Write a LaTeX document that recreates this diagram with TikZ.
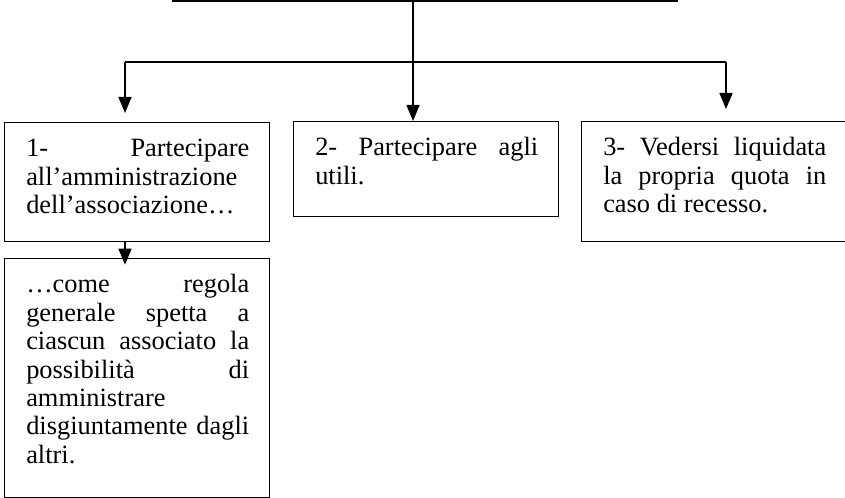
\documentclass[tikz,border=0pt]{standalone}
\usepackage{fontspec}
\setmainfont{Liberation Serif}
\usetikzlibrary{arrows.meta,calc}
\begin{document}
\begin{tikzpicture}[x=0.75pt,y=-0.75pt,
  box/.style={draw, line width=1.1pt, rectangle, inner sep=0pt, anchor=north west, minimum width=198.75pt},
  txt/.style={inner sep=0pt, anchor=base west, font=\fontsize{19.8}{21.3}\selectfont},
  ln/.style={line width=1.1pt},
  arr/.style={line width=1.1pt, -{Triangle[length=12pt,width=9.75pt]}}]
\useasboundingbox (0,0) rectangle (845,498);
% boxes
\node[box, minimum height=89.25pt] (b1) at (4,122) {};
\node[box, minimum height=71.25pt] (b2) at (293,121) {};
\node[box, minimum height=90pt] (b3) at (581,121) {};
\node[box, minimum height=179.25pt] (b4) at (4,258) {};
% texts
\node[txt] (t1) at ($(b1.north west)+(22,35)$) {\parbox[t]{167.25pt}{1-\hfill Partecipare\\all’amministrazione\\dell’associazione…}};
\node[txt] (t2) at ($(b2.north west)+(22,35)$) {\parbox[t]{167.25pt}{2-\hfill Partecipare\hfill agli\\utili.}};
\node[txt] (t3) at ($(b3.north west)+(22,35)$) {\parbox[t]{167.25pt}{3-\hfill Vedersi\hfill liquidata\\la\hfill propria\hfill quota\hfill in\\caso di recesso.}};
\node[txt] (t4) at ($(b4.north west)+(22,35)$) {\parbox[t]{167.25pt}{…come\hfill regola\\generale\hfill spetta\hfill a\\ciascun\hfill associato\hfill la\\possibilità\hfill di\\amministrare\\disgiuntamente\hfill dagli\\altri.}};
% connectors
\coordinate (tl) at (172,1);
\coordinate (tr) at (678,1);
\coordinate (top) at (413,1);
\coordinate (mid) at (413,62);
\coordinate (hl) at (125,62);
\coordinate (hr) at (726,62);
\coordinate (a1) at (125,113);
\coordinate (a3) at (726,109);
\draw[ln] (tl) -- (tr);
\draw[ln] (top) -- (mid);
\draw[ln] (hl) -- (hr);
\draw[arr] (hl) -- (a1);
\draw[arr] (mid) -- (mid |- b2.north);
\draw[arr, shorten >=-5pt] (b1.south -| hl) -- (b4.north -| hl);
\draw[arr] (hr) -- (a3);
\end{tikzpicture}
\end{document}
